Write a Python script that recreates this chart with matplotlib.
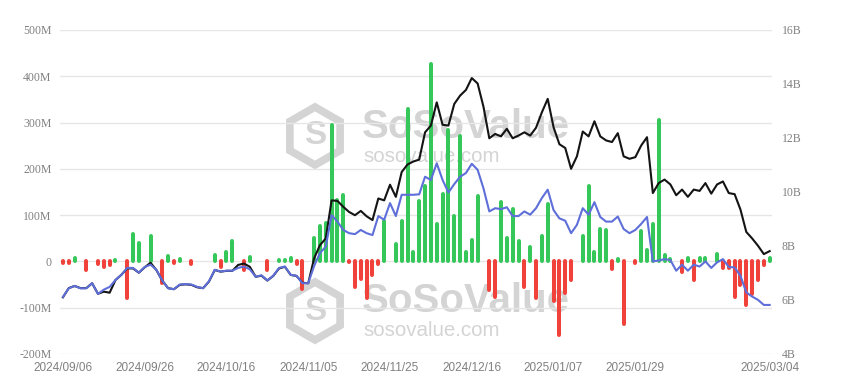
import matplotlib.pyplot as plt
import numpy as np
from matplotlib.patches import RegularPolygon
from matplotlib.transforms import IdentityTransform

# daily net inflow (M USD), one value per trading day 2024/09/06 .. 2025/03/04
flows = [-3, -3, 7, 0, -18, 0, -6, -13, -8, 3,
         2, -78, 60, 40, 0, 56, 0, -47, 11, -3,
         5, 0, -6, 0, 1, 0, 13, -11, 21, 45,
         1, -18, 9, 1, 1, -18, 0, 4, 3, 8,
         -6, -60, 0, 50, 76, 83, 294, 132, 143, -2,
         -55, -38, -80, -30, -5, 88, 1, 38, 87, 330,
         20, 130, 164, 427, 81, 146, 283, 99, 270, 20,
         47, 141, 0, -61, -76, 128, 50, 114, 44, -56,
         32, -78, 55, 125, -86, -160, -68, -41, 1, 56,
         164, 20, 71, 67, -16, 6, -136, 0, -3, 65,
         25, 81, 305, 13, 5, 0, -23, 8, -41, 8,
         8, 2, 15, -14, -14, -77, -52, -95, -70, -41,
         -8, 8]

# total net assets (B USD)
net_assets = [6.10, 6.44, 6.52, 6.44, 6.44, 6.62, 6.23, 6.31, 6.27, 6.74,
              6.93, 7.17, 7.17, 7.01, 7.21, 7.38, 7.11, 6.72, 6.44, 6.40,
              6.56, 6.58, 6.56, 6.47, 6.44, 6.68, 7.11, 7.05, 7.08, 7.08,
              7.30, 7.35, 7.23, 6.86, 6.90, 6.72, 6.89, 7.17, 7.23, 6.93,
              6.89, 6.64, 6.62, 7.54, 8.03, 8.28, 9.69, 9.67, 9.45, 9.26,
              9.14, 9.30, 9.10, 8.96, 9.76, 9.69, 10.27, 9.82, 10.74, 11.02,
              11.13, 11.20, 12.21, 12.46, 13.32, 12.49, 12.46, 13.26, 13.57, 13.78,
              14.22, 14.02, 13.16, 11.99, 12.15, 12.06, 12.34, 11.99, 12.09, 12.21,
              12.09, 12.38, 12.95, 13.45, 12.40, 11.77, 11.63, 10.86, 11.32, 12.24,
              12.06, 12.62, 12.06, 11.91, 11.85, 12.18, 11.32, 11.23, 11.29, 11.72,
              12.03, 9.96, 10.33, 10.46, 10.28, 9.88, 10.09, 9.82, 10.09, 10.04,
              10.33, 9.94, 10.28, 10.39, 9.96, 9.92, 9.35, 8.52, 8.28, 8.01,
              7.70, 7.81]

# cumulative net inflow (M USD)
cum_flow = [-77, -58, -53, -58, -58, -47, -70, -61, -55, -40,
            -29, -14, -14, -24, -12, -7, -18, -41, -58, -60,
            -50, -49, -50, -55, -58, -43, -18, -22, -20, -20,
            -14, -11, -17, -33, -30, -41, -31, -14, -11, -29,
            -31, -47, -47, -10, 18, 32, 100, 86, 68, 61,
            59, 68, 61, 57, 98, 90, 126, 98, 144, 144,
            144, 145, 183, 176, 212, 176, 149, 167, 183, 191,
            211, 198, 158, 108, 115, 113, 117, 98, 98, 108,
            101, 115, 137, 155, 111, 93, 88, 61, 79, 115,
            101, 128, 96, 86, 86, 97, 70, 61, 68, 81,
            96, 0, 2, 5, 3, -20, -7, -20, -7, -11,
            0, -14, -2, 5, -12, -13, -31, -67, -76, -83,
            -94, -94]

tick_idx = [0, 14, 28, 42, 56, 70, 84, 98, 121]
tick_labels = ['2024/09/06', '2024/09/26', '2024/10/16', '2024/11/05', '2024/11/25',
               '2024/12/16', '2025/01/07', '2025/01/29', '2025/03/04']

left_ticks = [-200, -100, 0, 100, 200, 300, 400, 500]
right_ticks = [4, 6, 8, 10, 12, 14, 16]

green = '#36c75a'
red = '#f0413a'
label_col = '#808080'
serif = ['Liberation Serif', 'DejaVu Serif']
sans = ['Liberation Sans', 'DejaVu Sans']

fig = plt.figure(figsize=(8.41, 3.85), dpi=100)
ax = fig.add_axes([60 / 841, 1 - 354 / 385, 712 / 841, 324 / 385])

# watermark
wm = '#d4d4d4'
for cy, ty1, ty2 in [(136, 127, 156), (311, 301, 330)]:
    hexa = RegularPolygon((315, 385 - cy), 6, radius=29, transform=IdentityTransform(),
                          fill=False, edgecolor=wm, linewidth=5.5, zorder=0.2)
    ax.add_artist(hexa)
    ax.text(315 / 841, 1 - cy / 385, 'S', transform=fig.transFigure, ha='center',
            va='center', fontsize=24, fontweight='bold', color=wm, family=sans, zorder=0.2)
    ax.text(362 / 841, 1 - ty1 / 385, 'SoSoValue', transform=fig.transFigure, ha='left',
            va='center', fontsize=29, fontweight='bold', color=wm, family=sans, zorder=0.2)
    ax.text(363 / 841, 1 - ty2 / 385, 'sosovalue.com', transform=fig.transFigure, ha='left',
            va='center', fontsize=14.8, color=wm, family=sans, zorder=0.2)

x = np.arange(len(flows))
fl = np.array(flows)
nz = fl != 0
ax.vlines(x[nz], 0, fl[nz], colors=[green if v > 0 else red for v in fl[nz]],
          linewidth=2.9, capstyle='round', zorder=2)

ax.set_ylim(-200, 500)
ax.set_yticks(left_ticks)
ax.set_yticklabels([('%dM' % v) if v != 0 else '0' for v in left_ticks],
                   family=serif, fontsize=8.5, color=label_col)
ax.set_xlim(-0.5, 121.4)
ax.set_xticks(tick_idx)
ax.set_xticklabels(tick_labels, family=sans, fontsize=8.5, color=label_col)
ax.tick_params(axis='y', length=0, pad=6)
ax.tick_params(axis='x', length=0, pad=5.5)
ax.yaxis.grid(True, color='#e6e6e6', linewidth=1)
ax.set_axisbelow(True)
for s in ax.spines.values():
    s.set_visible(False)

ax2 = ax.twinx()
ax2.plot(x, net_assets, color='#141414', linewidth=1.5, zorder=3)
ax2.set_ylim(4, 16)
ax2.set_yticks(right_ticks)
ax2.set_yticklabels(['%dB' % v for v in right_ticks], family=serif, fontsize=8.5,
                    color=label_col)
ax2.tick_params(axis='y', length=0, pad=7)
for s in ax2.spines.values():
    s.set_visible(False)

ax3 = ax.twinx()
ax3.plot(x, cum_flow, color='#5f6fd9', linewidth=1.5)
ax3.set_ylim(-200, 500)
ax3.axis('off')

fig.savefig('out.png', dpi=100)
